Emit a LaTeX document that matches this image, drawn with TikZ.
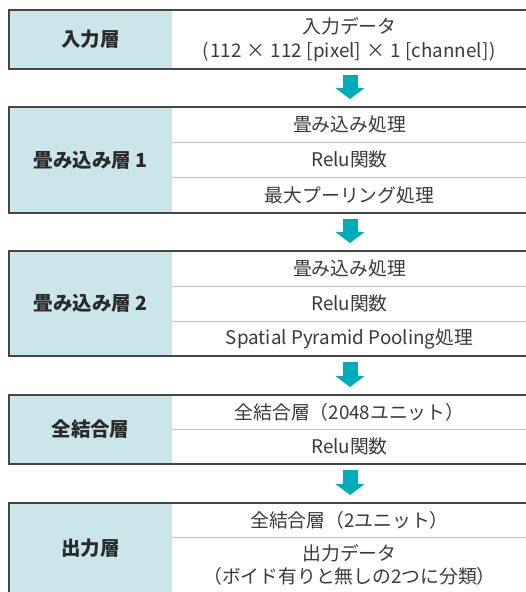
\documentclass[tikz,border=0pt]{standalone}
\usepackage{fontspec}
\setmainfont{Noto Sans CJK JP}
\usetikzlibrary{arrows.meta}
\definecolor{labfill}{HTML}{CBE6EA}
\definecolor{arrc}{HTML}{00ACBA}
\definecolor{bordc}{HTML}{454545}
\definecolor{divc}{HTML}{C4C4C4}
\definecolor{labtxt}{HTML}{2A2A2A}
\definecolor{rowtxt}{HTML}{3A3A3A}
\newcommand{\gp}{\hspace{5pt}}
\tikzset{
  labst/.style={anchor=north west, fill=labfill, inner sep=0pt, outer sep=0pt,
    minimum width=163pt, text=labtxt, font=\fontsize{19.5}{23}\selectfont\bfseries},
  rowst/.style={anchor=north west, inner sep=0pt, outer sep=0pt, align=center,
    minimum width=355pt, text=rowtxt, font=\fontsize{18.8}{23.5}\selectfont},
  boxst/.style={anchor=north west, draw=bordc, line width=1.2pt, inner sep=0pt,
    outer sep=0pt, minimum width=518pt},
  divst/.style={draw=divc, line width=1pt},
  arrst/.style={draw=arrc, line width=15pt,
    -{Triangle[width=29pt,length=11pt,line width=0pt]}}
}
\begin{document}
\begin{tikzpicture}[x=1pt,y=-1pt]
\useasboundingbox (0,0) rectangle (526,592);
\clip (0,0) rectangle (526,592);
\coordinate (ax) at (350,0);
% layer 1
\node[labst, minimum height=59pt] (l1) at (9,10) {入力層};
\node[rowst, minimum height=59pt] (r11) at (172,10) {入力データ\\(\hspace{1.5pt}112\gp×\gp112\gp[pixel]\gp×\gp1\gp[channel]\hspace{1.5pt})};
\node[boxst, minimum height=59pt] (b1) at (9,10) {};
% layer 2
\node[labst, minimum height=106pt] (l2) at (9,107) {畳み込み層 1};
\node[rowst, minimum height=35pt] (r21) at (172,107) {畳み込み処理};
\node[rowst, minimum height=35pt] (r22) at (172,142) {Relu関数};
\node[rowst, minimum height=36pt] (r23) at (172,177) {最大プーリング処理};
\draw[divst] (r21.south west) -- (r21.south east);
\draw[divst] (r22.south west) -- (r22.south east);
\node[boxst, minimum height=106pt] (b2) at (9,107) {};
% layer 3
\node[labst, minimum height=105pt] (l3) at (9,251) {畳み込み層 2};
\node[rowst, minimum height=35pt] (r31) at (172,251) {畳み込み処理};
\node[rowst, minimum height=35pt] (r32) at (172,286) {Relu関数};
\node[rowst, minimum height=35pt] (r33) at (172,321) {Spatial Pyramid Pooling処理};
\draw[divst] (r31.south west) -- (r31.south east);
\draw[divst] (r32.south west) -- (r32.south east);
\node[boxst, minimum height=105pt] (b3) at (9,251) {};
% layer 4
\node[labst, minimum height=69pt] (l4) at (9,395) {全結合層};
\node[rowst, minimum height=34pt] (r41) at (172,395) {全結合層（2048ユニット）};
\node[rowst, minimum height=35pt] (r42) at (172,429) {Relu関数};
\draw[divst] (r41.south west) -- (r41.south east);
\node[boxst, minimum height=69pt] (b4) at (9,395) {};
% layer 5
\node[labst, minimum height=90pt] (l5) at (9,503) {出力層};
\node[rowst, minimum height=34pt] (r51) at (172,503) {全結合層（2ユニット）};
\node[rowst, minimum height=56pt] (r52) at (172,537) {出力データ\\（ボイド有りと無しの2つに分類）};
\draw[divst] (r51.south west) -- (r51.south east);
\node[boxst, minimum height=90pt] (b5) at (9,503) {};
% arrows
\draw[arrst] ([yshift=-6pt]b1.south -| ax) -- ([yshift=8pt]b2.north -| ax);
\draw[arrst] ([yshift=-6pt]b2.south -| ax) -- ([yshift=8pt]b3.north -| ax);
\draw[arrst] ([yshift=-6pt]b3.south -| ax) -- ([yshift=8pt]b4.north -| ax);
\draw[arrst] ([yshift=-6pt]b4.south -| ax) -- ([yshift=8pt]b5.north -| ax);
\end{tikzpicture}
\end{document}
